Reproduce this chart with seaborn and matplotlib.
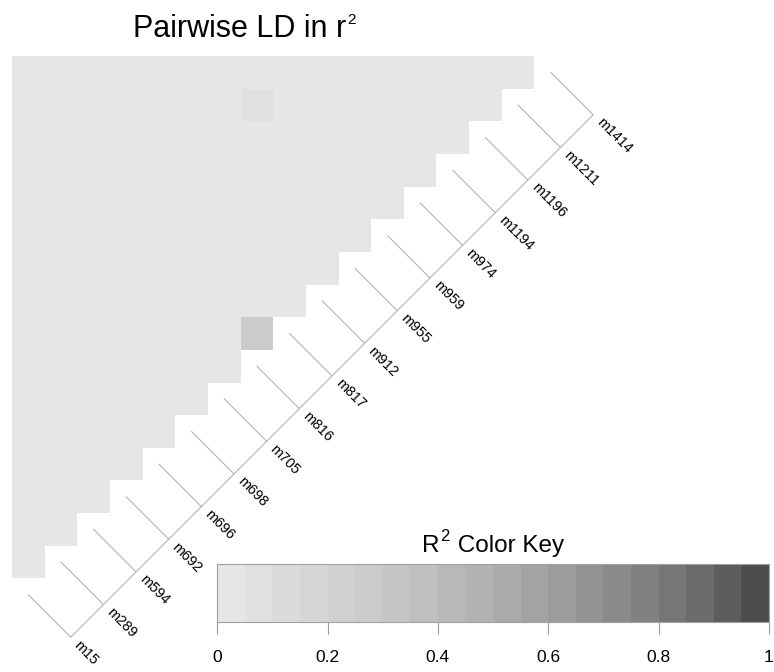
import numpy as np
import pandas as pd
import matplotlib
matplotlib.use("Agg")
import matplotlib.pyplot as plt
from matplotlib.colors import ListedColormap
import seaborn as sns

# ---------------- data ----------------
markers = ["m15", "m289", "m594", "m692", "m696", "m698", "m705", "m816",
           "m817", "m912", "m955", "m959", "m974", "m1194", "m1196", "m1211", "m1414"]

# r^2 between marker i and each later marker j (j = i+1 ... last)
ld_rows = [
    [0.01, 0.01, 0.01, 0.01, 0.01, 0.01, 0.01, 0.01, 0.01, 0.01, 0.01, 0.01, 0.01, 0.01, 0.01, 0.01],  # m15
    [0.01, 0.01, 0.01, 0.01, 0.01, 0.01, 0.01, 0.01, 0.01, 0.01, 0.01, 0.01, 0.01, 0.01, 0.01],        # m289
    [0.01, 0.01, 0.01, 0.01, 0.01, 0.01, 0.01, 0.01, 0.01, 0.01, 0.01, 0.01, 0.01, 0.01],              # m594
    [0.01, 0.01, 0.01, 0.01, 0.01, 0.01, 0.01, 0.01, 0.01, 0.01, 0.01, 0.01, 0.01],                    # m692
    [0.01, 0.01, 0.01, 0.01, 0.01, 0.01, 0.01, 0.01, 0.01, 0.01, 0.01, 0.01],                          # m696
    [0.01, 0.01, 0.01, 0.01, 0.01, 0.01, 0.01, 0.01, 0.01, 0.01, 0.01],                                # m698
    [0.01, 0.01, 0.01, 0.01, 0.01, 0.01, 0.01, 0.01, 0.01, 0.01],                                      # m705
    [0.27, 0.01, 0.01, 0.01, 0.01, 0.01, 0.01, 0.07, 0.01],                                            # m816
    [0.01, 0.01, 0.01, 0.01, 0.01, 0.01, 0.01, 0.01],                                                  # m817
    [0.01, 0.01, 0.01, 0.01, 0.01, 0.01, 0.01],                                                        # m912
    [0.01, 0.01, 0.01, 0.01, 0.01, 0.01],                                                              # m955
    [0.01, 0.01, 0.01, 0.01, 0.01],                                                                    # m959
    [0.01, 0.01, 0.01, 0.01],                                                                          # m974
    [0.01, 0.01, 0.01],                                                                                # m1194
    [0.01, 0.01],                                                                                      # m1196
    [0.01],                                                                                            # m1211
]

key_ticks = [0, 0.2, 0.4, 0.6, 0.8, 1]
key_tick_labels = ["0", "0.2", "0.4", "0.6", "0.8", "1"]
n_colors = 20

# ---------------- style ----------------
sns.set_style("white")
plt.rcParams["font.family"] = ["Liberation Sans", "DejaVu Sans"]
plt.rcParams["text.color"] = "black"
plt.rcParams["xtick.color"] = "black"

# R grey.colors(20): start 0.9, end 0.3, gamma 2.2
g = np.linspace(0.9 ** 2.2, 0.3 ** 2.2, n_colors) ** (1 / 2.2)
cmap = ListedColormap([(v, v, v) for v in g])

# ---------------- build matrix ----------------
n = len(markers)
mat = np.full((n, n), np.nan)
for i, row in enumerate(ld_rows):
    for k, val in enumerate(row):
        j = i + 1 + k
        mat[n - 1 - j, i] = val      # row from top = marker j (reversed), column = marker i
df = pd.DataFrame(mat)

W, H = 774, 672
fig = plt.figure(figsize=(W / 100, H / 100), dpi=100)
renderer = fig.canvas.get_renderer()

# heatmap axes (full 17x17 grid incl. white diagonal)
cs = 32.65
x0, y0 = 12, 56
ax = fig.add_axes([x0 / W, 1 - (y0 + n * cs) / H, n * cs / W, n * cs / H])
sns.heatmap(df, ax=ax, cmap=cmap, vmin=0, vmax=1, cbar=False,
            xticklabels=False, yticklabels=False, mask=df.isna(), linewidths=0)
ax.set_xlim(0, n)
ax.set_ylim(n, 0)
for sp in ax.spines.values():
    sp.set_visible(False)

off = 1.3
line_col = "#b3b3b3"
pts = []
for k, name in enumerate(markers):
    cx, cy = k + 0.5, (n - 1 - k) + 0.5
    px, py = cx + off, cy + off
    pts.append((px, py))
    ax.plot([cx, px], [cy, py], color=line_col, lw=0.8, clip_on=False)
    ax.text(px + 0.17, py + 0.17, name, rotation=-45, rotation_mode="anchor",
            ha="left", va="center", fontsize=10.3, color="black", clip_on=False)
ax.plot([pts[0][0], pts[-1][0]], [pts[0][1], pts[-1][1]], color=line_col, lw=0.8,
        clip_on=False)


def text_with_sup(x_px, base_px, before, after, size, sup_size, sup_rise):
    """Draw 'before' + superscript 2 + 'after' starting at pixel x, baseline pixel y."""
    t1 = fig.text(x_px / W, 1 - base_px / H, before, fontsize=size,
                  ha="left", va="baseline")
    bb = t1.get_window_extent(renderer)
    xs = bb.x1 + 1
    t2 = fig.text(xs / W, 1 - (base_px - sup_rise) / H, "2", fontsize=sup_size,
                  ha="left", va="baseline", transform=fig.transFigure)
    if after:
        bb2 = t2.get_window_extent(renderer)
        fig.text((bb2.x1 + 1) / W, 1 - base_px / H, after, fontsize=size,
                 ha="left", va="baseline")


# title
text_with_sup(132.7, 36.7, "Pairwise LD in r", "", 22, 11, 13)

# ---------------- color key ----------------
kl, kr, kt, kb = 217.3, 768.8, 564, 621.7
kax = fig.add_axes([kl / W, 1 - kb / H, (kr - kl) / W, (kb - kt) / H])
mids = (np.arange(n_colors) + 0.5) / n_colors
sns.heatmap(pd.DataFrame([mids]), ax=kax, cmap=cmap, vmin=0, vmax=1, cbar=False,
            xticklabels=False, yticklabels=False, linewidths=0)
kax.set_xticks([t * n_colors for t in key_ticks])
kax.set_xticklabels(key_tick_labels, fontsize=12.5)
kax.tick_params(axis="x", bottom=True, length=8.4, width=0.8, color="#999999",
                pad=12, labelcolor="black")
kax.set_yticks([])
for sp in kax.spines.values():
    sp.set_visible(True)
    sp.set_color("#a0a0a0")
    sp.set_linewidth(0.8)

text_with_sup(421.7, 551.7, "R", " Color Key", 17.5, 12, 11)

fig.savefig("out.png", dpi=100)
